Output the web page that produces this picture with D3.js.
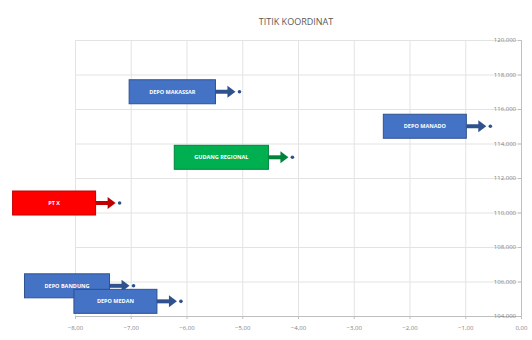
<!DOCTYPE html>
<html>
<head>
<meta charset="utf-8">
<script src="https://cdn.jsdelivr.net/npm/d3@7"></script>
<style>
  body { margin: 0; background: #fff; }
  text { font-family: "Open Sans", "Liberation Sans", sans-serif; }
</style>
</head>
<body>
<div id="area_chart"></div>
<script>
// data
const names = ["DEPO MAKASSAR", "DEPO MANADO", "GUDANG REGIONAL", "PT X", "DEPO BANDUNG", "DEPO MEDAN"];
const kinds = ["depo", "depo", "gudang", "pabrik", "depo", "depo"];
const xValues = [-5.05, -0.55, -4.1, -7.2, -6.95, -6.1];
const yValues = [117.0, 115.0, 113.2, 110.55, 105.75, 104.85];
const xTicks = [-8, -7, -6, -5, -4, -3, -2, -1, 0];
const yTicks = [104, 106, 108, 110, 112, 114, 116, 118, 120];

const fills = { depo: "#4472C4", gudang: "#00B050", pabrik: "#FF0000" };
const strokes = { depo: "#2F528F", gudang: "#00843B", pabrik: "#C00000" };

const data = names.map((n, i) => ({ name: n, kind: kinds[i], x: xValues[i], y: yValues[i] }));

async function scatterplot(){
    let dimensions = {
        width: 532,
        height: 340,
        margin: { top: 40, left: 75, right: 11, bottom: 24 }
    };
    dimensions.boundedWidth = dimensions.width - dimensions.margin.left - dimensions.margin.right;
    dimensions.boundedHeight = dimensions.height - dimensions.margin.top - dimensions.margin.bottom;

    const svg = d3.select("#area_chart").append("svg")
        .attr("width", dimensions.width)
        .attr("height", dimensions.height);

    svg.append("text")
        .attr("x", 296).attr("y", 25)
        .attr("text-anchor", "middle")
        .attr("font-size", 9)
        .attr("fill", "#595959")
        .text("TITIK KOORDINAT");

    const bounded = svg.append("g")
        .attr("transform", `translate(${dimensions.margin.left},${dimensions.margin.top})`);

    const xScale = d3.scaleLinear().domain([-8, 0]).range([0, dimensions.boundedWidth]);
    const yScale = d3.scaleLinear().domain([104, 120]).range([dimensions.boundedHeight, 0]);

    const fmt = v => d3.format(".2f")(v).replace(".", ",");
    const fmtY = v => d3.format(".3f")(v).replace(".", ",");

    // gridlines
    bounded.append("g")
        .call(d3.axisBottom(xScale).tickValues(xTicks).tickSize(dimensions.boundedHeight).tickFormat(""))
        .call(g => g.select(".domain").remove())
        .call(g => g.selectAll("line").attr("stroke", "#e3e3e3"));
    bounded.append("g")
        .call(d3.axisRight(yScale).tickValues(yTicks).tickSize(dimensions.boundedWidth).tickFormat(""))
        .call(g => g.select(".domain").remove())
        .call(g => g.selectAll("line").attr("stroke", "#e3e3e3"));

    // x axis
    const xAxis = bounded.append("g")
        .attr("transform", `translate(0,${dimensions.boundedHeight})`)
        .call(d3.axisBottom(xScale).tickValues(xTicks).tickFormat(fmt).tickSize(3));
    xAxis.select(".domain").attr("stroke", "#bfbfbf");
    xAxis.selectAll("line").attr("stroke", "#bfbfbf");
    xAxis.selectAll("text").attr("fill", "#7f7f7f").attr("font-size", 6).attr("dy", "1.4em");

    // y axis sitting at x = 0 (right)
    const yAxis = bounded.append("g")
        .attr("transform", `translate(${xScale(0)},0)`)
        .call(d3.axisLeft(yScale).tickValues(yTicks).tickFormat(fmtY).tickSize(3));
    yAxis.select(".domain").attr("stroke", "#bfbfbf");
    yAxis.selectAll("line").attr("stroke", "#bfbfbf");
    yAxis.selectAll("text").attr("fill", "#7f7f7f").attr("font-size", 6).attr("x", -5);

    // callouts
    const boxH = 24, gap = 24;
    const callouts = bounded.selectAll(".callout").data(data).join("g").attr("class", "callout");

    callouts.each(function(d){
        const g = d3.select(this);
        const px = xScale(d.x), py = yScale(d.y);
        const label = g.append("text")
            .attr("font-size", 5.5)
            .attr("font-weight", "bold")
            .attr("fill", "#fff")
            .attr("text-anchor", "middle")
            .attr("dominant-baseline", "central")
            .text(d.name);
        const tw = label.node().getComputedTextLength();
        const bw = Math.max(83, tw + 40);
        const bx = px - gap - bw;
        g.insert("rect", "text")
            .attr("x", bx).attr("y", py - boxH / 2)
            .attr("width", bw).attr("height", boxH)
            .attr("fill", fills[d.kind])
            .attr("stroke", strokes[d.kind]).attr("stroke-width", 1);
        label.attr("x", bx + bw / 2).attr("y", py);
        // arrow
        g.append("line")
            .attr("x1", bx + bw).attr("y1", py)
            .attr("x2", px - 10).attr("y2", py)
            .attr("stroke", strokes[d.kind]).attr("stroke-width", 4);
        g.append("path")
            .attr("d", `M${px - 12},${py - 6}L${px - 4},${py}L${px - 12},${py + 6}Z`)
            .attr("fill", strokes[d.kind]);
    });

    // points
    bounded.selectAll(".pt").data(data).join("circle")
        .attr("class", "pt")
        .attr("cx", d => xScale(d.x))
        .attr("cy", d => yScale(d.y))
        .attr("r", 1.8)
        .attr("fill", "#2F528F");
}

scatterplot();
</script>
</body>
</html>
